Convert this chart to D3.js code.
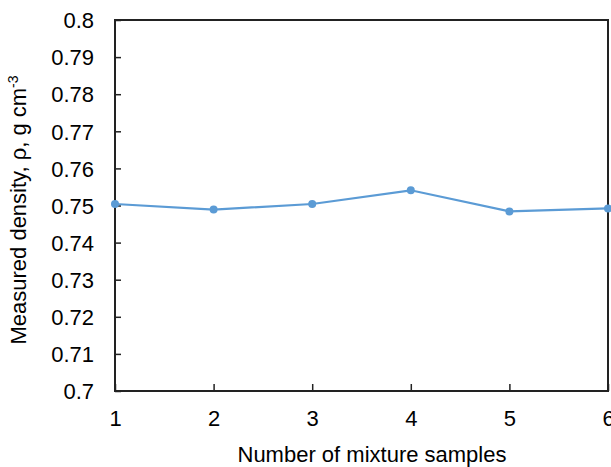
<!DOCTYPE html>
<html lang="en">
<head>
<meta charset="utf-8">
<title>Measured density</title>
<script src="https://cdn.jsdelivr.net/npm/d3@7"></script>
<style>
  body { margin: 0; background: #fff; }
  text { font-family: "Liberation Sans", Arial, sans-serif; fill: #000; }
</style>
</head>
<body>
<div id="bod"></div>
<script>
// chart data
let samples = [1, 2, 3, 4, 5, 6]
let density = [0.7504, 0.7489, 0.7504, 0.7541, 0.7484, 0.7492]
let yTicks = [0.7, 0.71, 0.72, 0.73, 0.74, 0.75, 0.76, 0.77, 0.78, 0.79, 0.8]

let w = 611
let h = 467
let mLeft = 115, mRight = 608, mTop = 20, mBottom = 391

let data = samples.map(function(s, i) { return { x: s, y: density[i] }; })

let xScale = d3.scaleLinear().domain([1, 6]).range([mLeft, mRight])
let yScale = d3.scaleLinear().domain([0.7, 0.8]).range([mBottom, mTop])

let svg = d3.select("#bod").append("svg")
            .attr("width", w)
            .attr("height", h)

// frame
svg.append("rect")
   .attr("x", mLeft).attr("y", mTop)
   .attr("width", mRight - mLeft).attr("height", mBottom - mTop)
   .attr("fill", "none")
   .attr("stroke", "#222")
   .attr("stroke-width", 2)

let yAxis = d3.axisLeft(yScale)
              .tickValues(yTicks)
              .tickSize(-6)
              .tickFormat(d3.format(""))

let xAxis = d3.axisBottom(xScale)
              .tickValues(samples)
              .tickSize(-7)
              .tickFormat(d3.format("d"))

let gy = svg.append("g").attr("transform", "translate(" + mLeft + ",0)").call(yAxis)
let gx = svg.append("g").attr("transform", "translate(0," + mBottom + ")").call(xAxis)

;[gx, gy].forEach(function(g) {
  g.select(".domain").remove()
  g.selectAll(".tick line").attr("stroke", "#222").attr("stroke-width", 1.5)
  g.selectAll(".tick text").attr("font-size", 22).attr("fill", "#000")
    .style("font-family", "'Liberation Sans', Arial, sans-serif")
})
gy.selectAll(".tick text").attr("x", -21).attr("dy", "0.35em")
gx.selectAll(".tick text").attr("y", 35).attr("dy", 0)

let line = d3.line()
             .x(function(d) { return xScale(d.x); })
             .y(function(d) { return yScale(d.y); })

svg.append("path")
   .datum(data)
   .attr("d", line)
   .attr("fill", "none")
   .attr("stroke", "#5B9BD5")
   .attr("stroke-width", 2.2)

svg.selectAll("circle.pt")
   .data(data)
   .enter().append("circle")
   .attr("class", "pt")
   .attr("cx", function(d) { return xScale(d.x); })
   .attr("cy", function(d) { return yScale(d.y); })
   .attr("r", 4)
   .attr("fill", "#5B9BD5")

// axis titles
svg.append("text")
   .attr("x", 372).attr("y", 462)
   .attr("text-anchor", "middle")
   .attr("font-size", 22)
   .text("Number of mixture samples")

let yt = svg.append("text")
   .attr("transform", "translate(26,210) rotate(-90)")
   .attr("text-anchor", "middle")
   .attr("font-size", 22)
yt.append("tspan").text("Measured density, ρ, g cm")
yt.append("tspan").attr("dy", -8).attr("font-size", 14).text("-3")
</script>
</body>
</html>
